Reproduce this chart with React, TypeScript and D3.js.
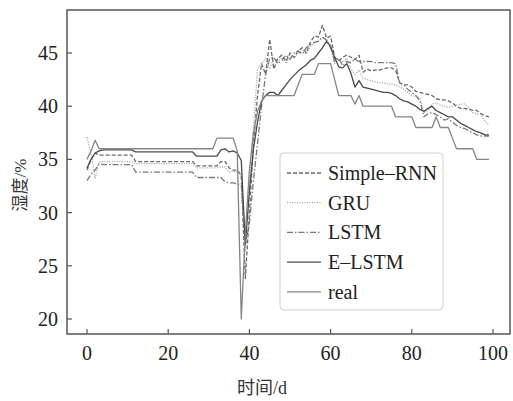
import React from 'react';
import * as d3 from 'd3';

// 湿度预测对比：0..99 天
const days = d3.range(100);

const real = [
  35.0, 35.8, 36.8, 36.0, 36.0, 36.0, 36.0, 36.0, 36.0, 36.0,
  36.0, 36.0, 36.0, 36.0, 36.0, 36.0, 36.0, 36.0, 36.0, 36.0,
  36.0, 36.0, 36.0, 36.0, 36.0, 36.0, 36.0, 36.0, 36.0, 36.0,
  36.0, 36.0, 37.0, 37.0, 37.0, 37.0, 37.0, 35.8, 20.0, 28.0,
  34.0, 37.5, 39.5, 40.5, 41.0, 41.0, 41.0, 41.0, 41.0, 41.0,
  41.0, 41.0, 42.0, 43.0, 43.0, 43.0, 43.0, 44.0, 44.0, 44.0,
  44.0, 42.5, 41.0, 41.0, 41.0, 41.0, 40.2, 41.0, 40.0, 40.0,
  40.0, 40.0, 40.0, 40.0, 40.0, 40.0, 39.0, 39.0, 39.0, 39.0,
  39.0, 38.0, 38.0, 38.0, 38.0, 38.0, 39.0, 38.0, 38.0, 38.0,
  37.0, 36.0, 36.0, 36.0, 36.0, 36.0, 35.0, 35.0, 35.0, 35.0,
];

const eLstm = [
  34.2, 35.0, 35.6, 35.8, 35.9, 35.9, 35.9, 35.9, 35.9, 35.9,
  35.9, 35.9, 35.7, 35.7, 35.7, 35.7, 35.7, 35.7, 35.7, 35.7,
  35.7, 35.7, 35.7, 35.7, 35.7, 35.7, 35.7, 35.3, 35.3, 35.3,
  35.3, 35.3, 35.3, 35.9, 36.0, 35.7, 35.8, 35.6, 34.9, 27.0,
  32.0, 36.0, 38.5, 40.5, 41.0, 41.3, 41.3, 41.0, 41.5, 42.0,
  42.5, 42.9, 43.3, 43.6, 43.9, 44.3, 44.5, 45.0, 45.5, 46.1,
  45.6, 44.6, 43.7, 43.6, 44.0, 43.1, 41.8, 42.4, 41.8, 41.7,
  41.6, 41.5, 41.4, 41.3, 41.3, 41.2, 41.0, 40.7, 40.5, 40.4,
  40.2, 40.0, 39.7, 39.5, 39.8, 40.0, 39.6, 39.4, 39.2, 39.0,
  39.0, 38.7, 38.4, 38.2, 38.0, 37.8, 37.6, 37.5, 37.3, 37.3,
];

const simpleRnn = [
  34.0, 35.0, 35.6, 35.4, 35.4, 35.4, 35.4, 35.4, 35.4, 35.4,
  35.4, 35.4, 34.8, 34.8, 34.8, 34.8, 34.8, 34.8, 34.8, 34.8,
  34.8, 34.8, 34.8, 34.8, 34.8, 34.8, 34.8, 34.4, 34.4, 34.4,
  34.4, 34.4, 34.4, 34.8, 34.8, 34.2, 34.0, 34.0, 33.5, 23.8,
  30.0, 36.5, 41.0, 44.0, 43.0, 46.3, 43.5, 44.5, 44.8, 44.2,
  45.0, 44.6, 45.2, 45.5, 45.0, 46.0, 46.6, 46.5, 47.6, 46.4,
  46.6, 44.6, 44.3, 44.6, 44.8, 44.6, 44.4, 44.8, 43.2, 43.5,
  43.3, 43.4, 43.4, 43.5, 43.6, 43.6, 43.4, 42.2, 42.0, 42.0,
  41.8, 41.4, 41.3, 41.2, 41.1, 41.0, 40.7, 40.6, 40.6, 40.5,
  40.3, 40.0, 39.8, 39.8, 39.7, 39.6, 39.6, 39.3, 39.1, 39.0,
];

const gru = [
  37.1, 35.5, 33.2, 34.8, 34.8, 34.8, 34.8, 34.8, 34.8, 34.8,
  34.8, 34.8, 34.6, 34.6, 34.6, 34.6, 34.6, 34.6, 34.6, 34.6,
  34.6, 34.6, 34.6, 34.6, 34.6, 34.6, 34.6, 34.2, 34.2, 34.2,
  34.2, 34.2, 34.2, 34.3, 34.3, 33.8, 33.9, 33.8, 33.5, 26.5,
  33.0, 38.0, 43.5, 44.0, 44.5, 43.5, 44.5, 44.2, 44.6, 44.0,
  44.8, 44.5, 45.0, 45.3, 44.9, 45.6, 46.0, 46.2, 46.4, 46.3,
  45.8, 44.0, 44.4, 44.1, 44.5, 43.5, 43.0, 43.4, 42.6, 42.5,
  42.4, 42.3, 42.2, 42.2, 42.1, 42.1, 42.0, 41.8, 41.6, 41.3,
  41.0, 40.9, 40.8, 39.4, 39.6, 40.2, 40.3, 40.1, 40.0, 39.9,
  40.0, 40.1, 40.2, 40.2, 39.9, 39.4, 39.3, 39.2, 38.6, 38.2,
];

const lstm = [
  33.0, 33.6, 34.0, 34.6, 34.5, 34.5, 34.5, 34.5, 34.5, 34.5,
  34.5, 34.5, 33.8, 33.8, 33.8, 33.8, 33.8, 33.8, 33.8, 33.8,
  33.8, 33.8, 33.8, 33.8, 33.8, 33.8, 33.8, 33.3, 33.3, 33.3,
  33.3, 33.3, 33.3, 33.3, 32.9, 32.8, 32.8, 32.7, 32.6, 27.0,
  29.0, 33.0, 36.5, 40.0, 43.0, 44.5, 44.6, 44.0, 44.3, 44.8,
  44.4, 45.0, 45.2, 44.9, 45.5, 45.8, 46.0, 46.1, 46.5, 46.2,
  45.5, 44.2, 44.5, 43.8, 44.2, 44.1, 44.4, 44.2, 44.2, 44.2,
  44.2, 44.1, 44.1, 44.1, 44.1, 44.1, 44.0, 42.2, 42.0, 41.6,
  41.3, 41.0, 40.5, 39.0, 39.3, 39.4, 39.2, 39.0, 38.7, 38.8,
  38.5, 38.2, 38.0, 37.9, 37.7, 37.5, 37.3, 37.2, 37.2, 37.2,
];

const xTicks = [0, 20, 40, 60, 80, 100];
const yTicks = [20, 25, 30, 35, 40, 45];

const series = [
  { name: 'Simple–RNN', values: simpleRnn, color: '#6a6a6a', dash: '4,2' },
  { name: 'GRU', values: gru, color: '#a0a0a0', dash: '1,1.5' },
  { name: 'LSTM', values: lstm, color: '#7a7a7a', dash: '6,2,1.5,2' },
  { name: 'E–LSTM', values: eLstm, color: '#4a4a4a', dash: null },
  { name: 'real', values: real, color: '#858585', dash: null },
];

const W = 513;
const H = 401;
const frame = { left: 67, right: 510, top: 10, bottom: 334 };
const serif = '"Liberation Serif", "DejaVu Serif", serif';
const cjk = '"Liberation Serif", "Noto Sans CJK SC", serif';

export default function App() {
  const x = d3.scaleLinear().domain([0, 100]).range([87, 493]);
  const y = d3.scaleLinear().domain([20, 45]).range([319, 53]);

  const line = (vals: number[]) =>
    d3.line<number>()
      .x((_, i) => x(days[i]))
      .y(d => y(d))(vals) || '';

  const legX = 280, legY = 153;

  return (
    <svg width={W} height={H} style={{ position: 'absolute', left: 0, top: 0, background: '#fff' }}>
      {/* curves */}
      <g fill="none" strokeLinejoin="round">
        {series.map(s => (
          <path key={s.name} d={line(s.values)} stroke={s.color} strokeWidth={1.3}
            strokeDasharray={s.dash || undefined} />
        ))}
      </g>

      {/* frame */}
      <rect x={frame.left} y={frame.top} width={frame.right - frame.left} height={frame.bottom - frame.top}
        fill="none" stroke="#555" strokeWidth={1.5} />

      {/* x ticks */}
      {xTicks.map(t => (
        <g key={'x' + t}>
          <line x1={x(t)} x2={x(t)} y1={frame.bottom} y2={frame.bottom - 5} stroke="#555" strokeWidth={1.2} />
          <text x={x(t)} y={360} textAnchor="middle" fontFamily={serif} fontSize={20} fill="#222">{t}</text>
        </g>
      ))}

      {/* y ticks */}
      {yTicks.map(t => (
        <g key={'y' + t}>
          <line x1={frame.left} x2={frame.left + 5} y1={y(t)} y2={y(t)} stroke="#555" strokeWidth={1.2} />
          <text x={58} y={y(t)} dy="0.35em" textAnchor="end" fontFamily={serif} fontSize={20} fill="#222">{t}</text>
        </g>
      ))}

      {/* axis titles */}
      <text x={262} y={394} textAnchor="middle" fontFamily={cjk} fontSize={18} fill="#333">时间/d</text>
      <text transform="translate(26,185) rotate(-90)" textAnchor="middle" fontFamily={cjk} fontSize={17} fill="#333">湿度/%</text>

      {/* legend */}
      <rect x={legX} y={legY} width={163} height={157} rx={4} fill="#fff" fillOpacity={0.85}
        stroke="#d0d0d0" strokeWidth={1} />
      {series.map((s, i) => {
        const ly = 173 + i * 29.7;
        return (
          <g key={'leg' + s.name}>
            <line x1={287} x2={321} y1={ly} y2={ly} stroke={s.color} strokeWidth={1.3}
              strokeDasharray={s.dash || undefined} />
            <text x={328} y={ly} dy="0.35em" fontFamily={serif} fontSize={20} fill="#222">{s.name}</text>
          </g>
        );
      })}
    </svg>
  );
}
